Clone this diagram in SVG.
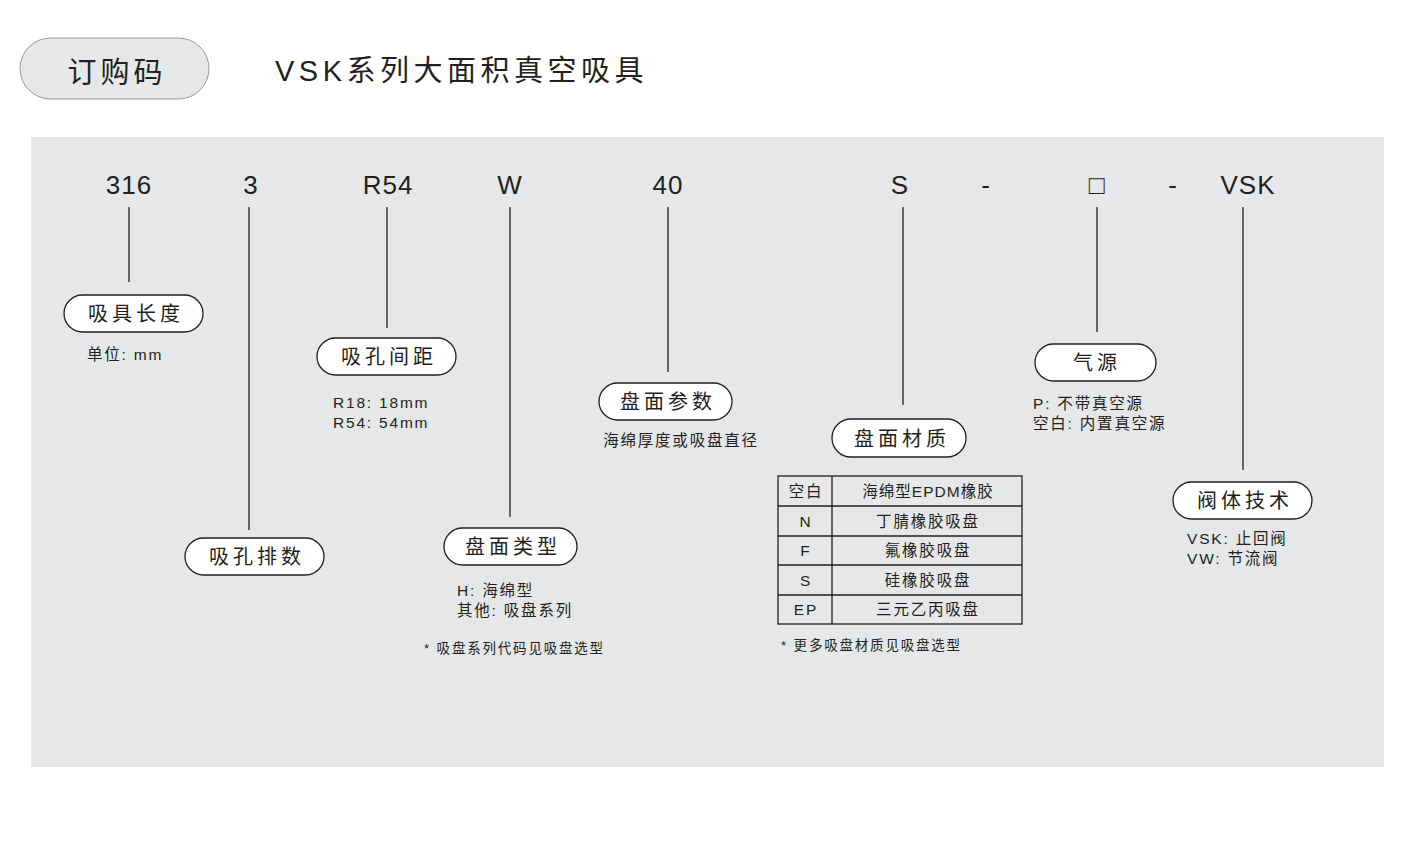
<svg xmlns="http://www.w3.org/2000/svg" width="1421" height="841" viewBox="0 0 1421 841">
<style>
text{font-family:"Liberation Sans","Noto Sans CJK SC",sans-serif;fill:#231f20}
.code{font-size:26px;text-anchor:middle;letter-spacing:1px}
.pill{fill:#fff;stroke:#231f20;stroke-width:1.3}
.pt{font-size:20px;text-anchor:middle;letter-spacing:4px}
.s{font-size:15.5px;letter-spacing:1.8px}
.c{text-anchor:middle}
.ln{stroke:#231f20;stroke-width:1.3}
.tb{fill:none;stroke:#231f20;stroke-width:1.3}
</style>
<rect width="1421" height="841" fill="#fff"/>
<rect x="20" y="38" width="189" height="61" rx="30.5" fill="#e6e7e8" stroke="#999" stroke-width="1"/>
<text x="117" y="83" font-size="29" text-anchor="middle" letter-spacing="4">订购码</text>
<text x="275" y="81" font-size="29" letter-spacing="4.5">VSK系列大面积真空吸具</text>
<rect x="31" y="137" width="1353" height="630" fill="#e6e7e8"/>
<g id="codes">
<text class="code" x="129" y="194">316</text>
<text class="code" x="251" y="194">3</text>
<text class="code" x="388" y="194">R54</text>
<text class="code" x="510" y="194">W</text>
<text class="code" x="668" y="194">40</text>
<text class="code" x="900" y="194">S</text>
<text class="code" x="986" y="194">-</text>
<text class="code" x="1097" y="194">□</text>
<text class="code" x="1173" y="194">-</text>
<text class="code" x="1248" y="194">VSK</text>
</g>
<g id="connectors">
<line class="ln" x1="129" y1="207" x2="129" y2="282"/>
<line class="ln" x1="249" y1="207" x2="249" y2="530"/>
<line class="ln" x1="387" y1="207" x2="387" y2="328"/>
<line class="ln" x1="510" y1="207" x2="510" y2="517"/>
<line class="ln" x1="668" y1="207" x2="668" y2="372"/>
<line class="ln" x1="903" y1="207" x2="903" y2="405"/>
<line class="ln" x1="1097" y1="207" x2="1097" y2="332"/>
<line class="ln" x1="1243" y1="207" x2="1243" y2="470"/>
</g>
<g id="n1"><rect class="pill" x="64" y="295" width="139" height="37" rx="18.5"/><text class="pt" x="136" y="321">吸具长度</text><text class="s" x="87" y="360">单位: mm</text></g>
<g id="n2"><rect class="pill" x="185" y="538" width="139" height="37" rx="18.5"/><text class="pt" x="257" y="564">吸孔排数</text></g>
<g id="n3"><rect class="pill" x="317" y="338" width="139" height="37" rx="18.5"/><text class="pt" x="389" y="364">吸孔间距</text><text class="s" x="333" y="408">R18: 18mm</text><text class="s" x="333" y="428">R54: 54mm</text></g>
<g id="n4"><rect class="pill" x="444" y="528" width="133" height="37" rx="18.5"/><text class="pt" x="513" y="554">盘面类型</text><text class="s" x="457" y="596">H: 海绵型</text><text class="s" x="457" y="616">其他: 吸盘系列</text><text x="424" y="653" font-size="13.5" letter-spacing="1.8">* 吸盘系列代码见吸盘选型</text></g>
<g id="n5"><rect class="pill" x="599" y="383" width="133" height="37" rx="18.5"/><text class="pt" x="668" y="409">盘面参数</text><text class="s c" x="681" y="446">海绵厚度或吸盘直径</text></g>
<g id="n6"><rect class="pill" x="832" y="419" width="134" height="38" rx="19"/><text class="pt" x="902" y="446">盘面材质</text>
<rect class="tb" x="778" y="476" width="244" height="148"/>
<line class="ln" x1="832" y1="476" x2="832" y2="624"/>
<line class="ln" x1="778" y1="506" x2="1022" y2="506"/>
<line class="ln" x1="778" y1="536" x2="1022" y2="536"/>
<line class="ln" x1="778" y1="565" x2="1022" y2="565"/>
<line class="ln" x1="778" y1="595" x2="1022" y2="595"/>
<g class="s c"><text x="806" y="497">空白</text><text x="928" y="497" letter-spacing="1">海绵型EPDM橡胶</text>
<text x="806" y="527">N</text><text x="928" y="527">丁腈橡胶吸盘</text>
<text x="806" y="556">F</text><text x="928" y="556">氟橡胶吸盘</text>
<text x="806" y="586">S</text><text x="928" y="586">硅橡胶吸盘</text>
<text x="806" y="615">EP</text><text x="928" y="615">三元乙丙吸盘</text></g>
<text x="781" y="650" font-size="13.5" letter-spacing="1.8">* 更多吸盘材质见吸盘选型</text></g>
<g id="n7"><rect class="pill" x="1035" y="344" width="121" height="37" rx="18.5"/><text class="pt" x="1097" y="370">气源</text><text class="s" x="1033" y="409">P: 不带真空源</text><text class="s" x="1033" y="429">空白: 内置真空源</text></g>
<g id="n8"><rect class="pill" x="1173" y="482" width="139" height="37" rx="18.5"/><text class="pt" x="1245" y="508">阀体技术</text><text class="s" x="1187" y="544">VSK: 止回阀</text><text class="s" x="1187" y="564">VW: 节流阀</text></g>
</svg>
